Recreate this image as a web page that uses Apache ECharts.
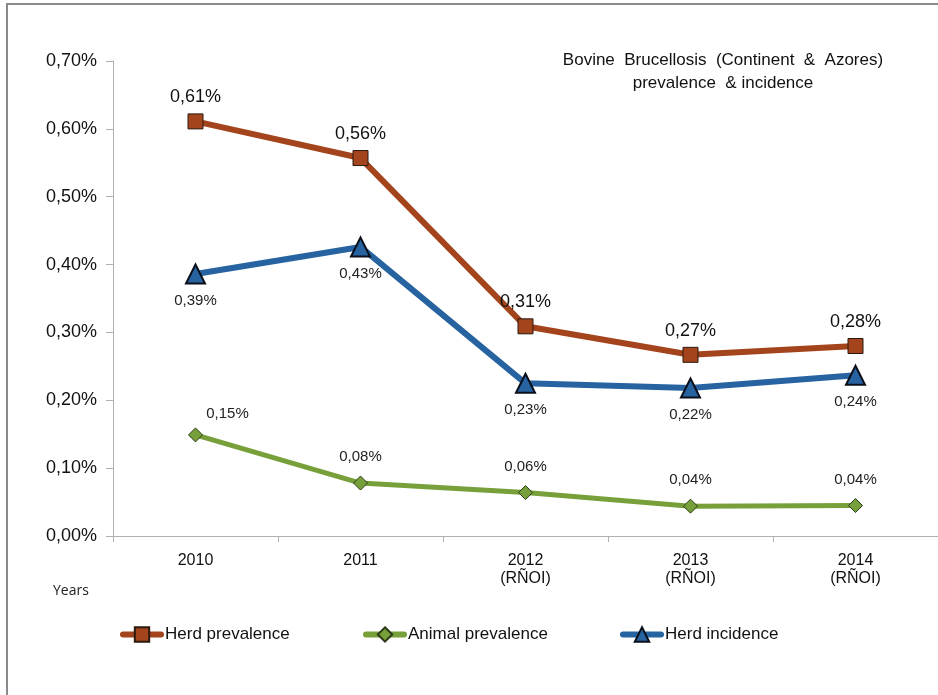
<!DOCTYPE html>
<html><head><meta charset="utf-8">
<script src="https://cdn.jsdelivr.net/npm/echarts@6/dist/echarts.min.js"></script>
<style>html,body{margin:0;padding:0;background:#fff}#c{width:938px;height:695px}</style>
</head><body><div id="c"></div>
<script>
const categories = ['2010', '2011', '2012\n(RÑOI)', '2013\n(RÑOI)', '2014\n(RÑOI)'];
const seriesNames = ['Herd prevalence', 'Animal prevalence', 'Herd incidence'];
const herdPrevalence = [0.611, 0.557, 0.309, 0.267, 0.280];
const animalPrevalence = [0.149, 0.078, 0.064, 0.044, 0.0449];
const herdIncidence = [0.386, 0.426, 0.225, 0.218, 0.237];
const yTicks = [0, 0.1, 0.2, 0.3, 0.4, 0.5, 0.6, 0.7];

const fmt = v => v.toFixed(2).replace('.', ',') + '%';
const font = 'Liberation Sans';

const legendLefts = [115, 358, 615];
const legends = seriesNames.map((n, i) => ({
  left: legendLefts[i], top: 621, itemWidth: 38, itemHeight: 18,
  lineStyle: { width: 6, cap: 'round' },
  textStyle: { fontFamily: font, fontSize: 17, color: '#111', padding: [0, 0, 0, -1] },
  data: [n]
}));

const chart = echarts.init(document.getElementById('c'));
chart.setOption({
  animation: false,
  textStyle: { fontFamily: font },
  grid: { left: 113, right: -11, top: 61, bottom: 159 },
  title: {
    text: 'Bovine  Brucellosis  (Continent  &  Azores)\nprevalence  & incidence',
    left: 718, top: 44, textAlign: 'center',
    textStyle: { fontFamily: font, fontSize: 17, fontWeight: 'normal', color: '#111', lineHeight: 23 }
  },
  legend: legends,
  graphic: [
    { type: 'polyline', shape: { points: [[7, 700], [7, 4], [945, 4]] }, style: { stroke: '#8a8a8a', lineWidth: 2, fill: null } },
    { type: 'text', left: 53, top: 584, style: { text: 'Years', font: '14px "Open Sans"', fill: '#222' } }
  ],
  xAxis: {
    type: 'category', data: categories, boundaryGap: true,
    axisLine: { lineStyle: { color: '#b0b0b0', width: 1 } },
    axisTick: { show: true, length: 6, lineStyle: { color: '#b0b0b0' } },
    axisLabel: { fontFamily: font, fontSize: 16, color: '#111', margin: 16, lineHeight: 18 }
  },
  yAxis: {
    type: 'value', min: 0, max: 0.7, interval: 0.1,
    splitLine: { show: false },
    axisLine: { show: true, lineStyle: { color: '#b0b0b0' } },
    axisTick: { show: true, length: 7, lineStyle: { color: '#b0b0b0' } },
    axisLabel: { fontFamily: font, fontSize: 18, color: '#111', margin: 16,
      formatter: v => yTicks.some(t => Math.abs(t - v) < 1e-9) ? fmt(v) : '' }
  },
  series: [
    {
      name: seriesNames[0], type: 'line', data: herdPrevalence, z: 3,
      symbol: 'rect', symbolSize: 15,
      lineStyle: { color: '#A4441C', width: 6 },
      itemStyle: { color: '#A4441C', borderColor: '#2b1a10', borderWidth: 1 },
      label: { show: true, position: 'top', distance: 7, fontFamily: font, fontSize: 18, color: '#111', formatter: p => fmt(p.value) }
    },
    {
      name: seriesNames[1], type: 'line', data: animalPrevalence, z: 2,
      symbol: 'diamond', symbolSize: 14,
      lineStyle: { color: '#77A03A', width: 5 },
      itemStyle: { color: '#77A03A', borderColor: '#2a3a18', borderWidth: 1 },
      label: { show: true, position: 'top', distance: 11, fontFamily: font, fontSize: 15, color: '#222', formatter: p => fmt(p.value) },
      labelLayout: (params) => params.dataIndex === 0 ? { dx: 32, dy: 5 } : {}
    },
    {
      name: seriesNames[2], type: 'line', data: herdIncidence, z: 3,
      symbol: 'triangle', symbolSize: 19,
      lineStyle: { color: '#2663A0', width: 6 },
      itemStyle: { color: '#2663A0', borderColor: '#0a0f1a', borderWidth: 2 },
      label: { show: true, position: 'bottom', distance: 9, fontFamily: font, fontSize: 15, color: '#222', formatter: p => fmt(p.value) }
    }
  ]
});
</script></body></html>
